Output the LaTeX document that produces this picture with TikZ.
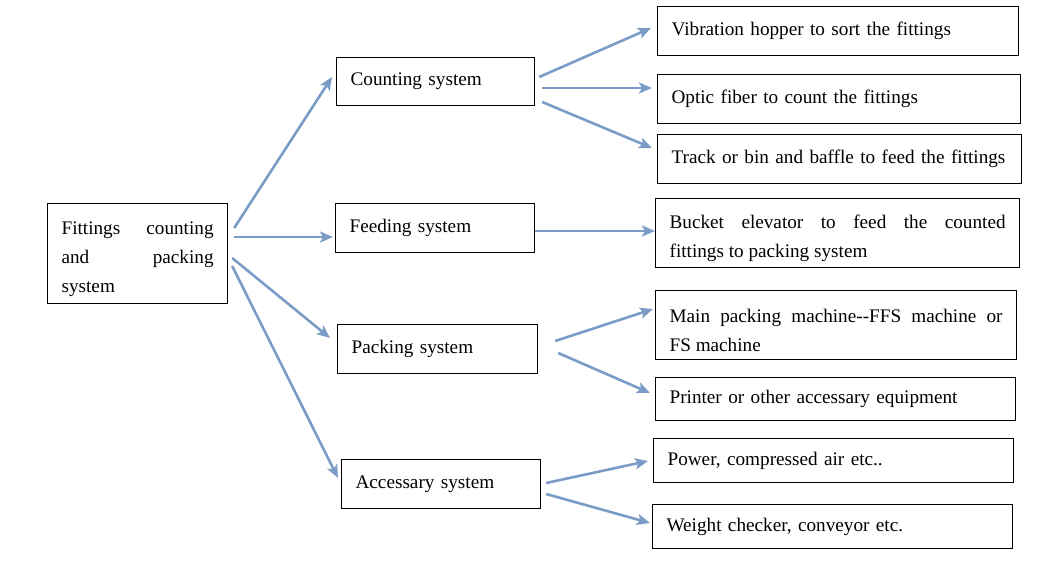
\documentclass[tikz,border=0pt]{standalone}
\usepackage{fontspec}
\setmainfont{Liberation Serif}
\usetikzlibrary{arrows.meta, calc}
\definecolor{arrblue}{RGB}{122,156,198}
\tikzset{
    x=1pt, y=-1pt,
    box/.style={draw, line width=1.2pt, anchor=north west, inner xsep=14pt, inner ysep=0pt,
        align=left, font=\fontsize{19.2}{29}\selectfont,
        execute at begin node={\hyphenpenalty=10000\relax}}, % boxes are placed by their top left corner
    jbox/.style={box, align=justify, execute at begin node={\hyphenpenalty=10000\relax\rule{0pt}{23pt}}},
    arr/.style={draw=arrblue, line width=2.6pt, -{Stealth[length=13pt, width=11pt, inset=3pt]}}
}
\begin{document}
\begin{tikzpicture}
    \useasboundingbox (0,0) rectangle (1060,576);
    % left column
    \node[jbox, text width=152pt, minimum height=100pt] (main) at (47,203) {Fittings counting\linebreak and packing\linebreak system};
    % middle column
    \node[box, text width=170pt, minimum height=48pt] (cnt) at (336,57) {Counting system};
    \node[box, text width=171pt, minimum height=49pt] (feed) at (335,203) {Feeding system};
    \node[box, text width=172pt, minimum height=49pt] (pack) at (337,324) {Packing system};
    \node[box, text width=171pt, minimum height=49pt] (acc) at (341,459) {Accessary system};
    % right column
    \node[box, text width=333pt, minimum height=49pt] (vib) at (657,6) {Vibration hopper to sort the fittings};
    \node[box, text width=335pt, minimum height=49pt] (opt) at (657,74) {Optic fiber to count the fittings};
    \node[box, text width=336pt, minimum height=49pt] (trk) at (657,134) {Track or bin and baffle to feed the fittings};
    \node[jbox, text width=336pt, minimum height=69pt] (bkt) at (655,198) {Bucket elevator to feed the counted\linebreak fittings to packing system};
    \node[jbox, text width=333pt, minimum height=69pt] (mpk) at (655,290) {Main packing machine{-}{-}FFS machine or\linebreak FS machine};
    \node[box, text width=332pt, minimum height=43pt] (prt) at (655,377) {Printer or other accessary equipment};
    \node[box, text width=332pt, minimum height=44pt] (pwr) at (653,438) {Power, compressed air etc..};
    \node[box, text width=332pt, minimum height=44pt] (wgt) at (652,504) {Weight checker, conveyor etc.};

    % arrows
    \draw[arr] ($(main.north east)+(6,25)$) -- ($(cnt.north west)+(-4,20)$);
    \draw[arr] ($(main.north east)+(6,34)$) -- ($(feed.north west)+(-2,34)$);
    \draw[arr] ($(main.north east)+(4,55)$) -- ($(pack.north west)+(-7,14)$);
    \draw[arr] ($(main.north east)+(4,63)$) -- ($(acc.north west)+(-3,19)$);

    \draw[arr] ($(cnt.north east)+(4,20)$) -- ($(vib.north west)+(-6,22)$);
    \draw[arr] ($(cnt.north east)+(7,31)$) -- ($(opt.north west)+(-5,14)$);
    \draw[arr] ($(cnt.north east)+(7,45)$) -- ($(trk.north west)+(-5,14)$);

    \draw[arr] ($(feed.north east)+(0,28)$) -- ($(bkt.north west)+(0,33)$);

    \draw[arr] ($(pack.north east)+(17,17)$) -- ($(mpk.north west)+(-2,19)$);
    \draw[arr] ($(pack.north east)+(20,29)$) -- ($(prt.north west)+(-5,16)$);

    \draw[arr] ($(acc.north east)+(5,24)$) -- ($(pwr.north west)+(-5,23)$);
    \draw[arr] ($(acc.north east)+(5,35)$) -- ($(wgt.north west)+(-2,19)$);
\end{tikzpicture}
\end{document}
